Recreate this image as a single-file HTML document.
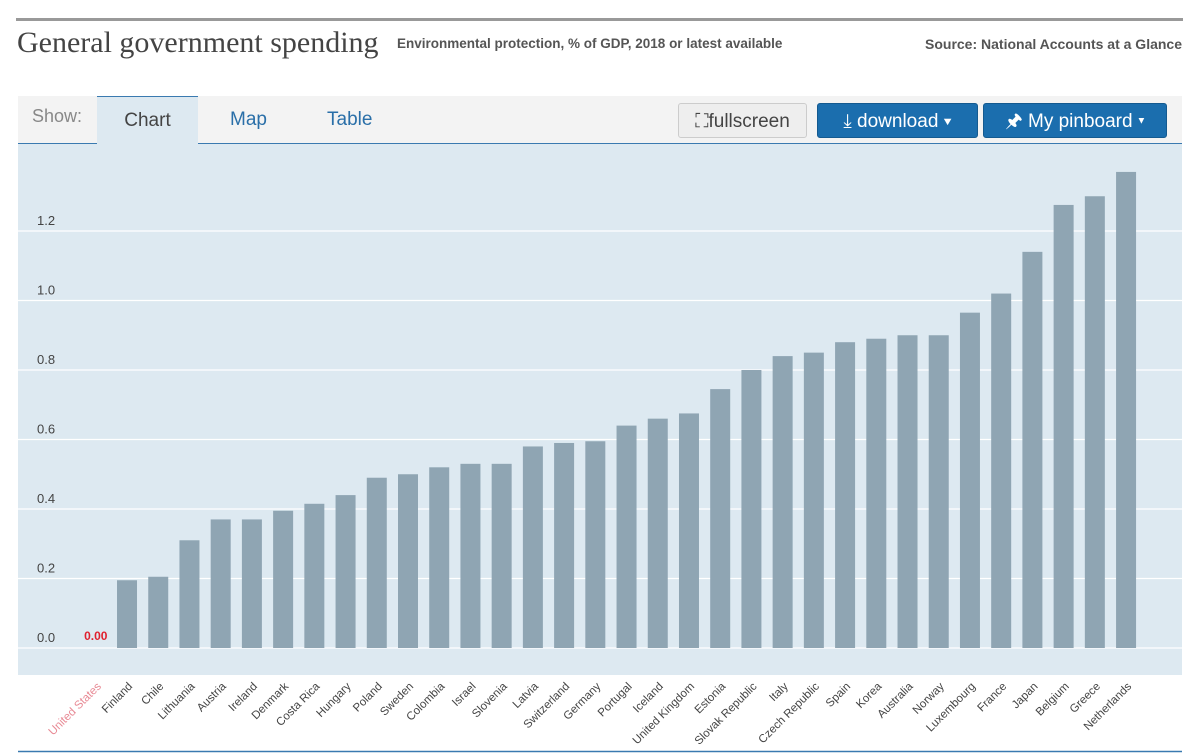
<!DOCTYPE html>
<html><head><meta charset="utf-8"><style>
body{margin:0;width:1200px;height:753px;background:#fff;font-family:"Liberation Sans",sans-serif;position:relative;overflow:hidden}
.abs{position:absolute}
.btn{position:absolute;top:103px;height:35px;border-radius:3px;font-size:19px;line-height:35px;text-align:center;box-sizing:border-box}
.blue{background:#1b6eae;color:#fff;border:1px solid #145a90}
</style></head><body>
<div class="abs" style="left:16px;top:18px;width:1167px;height:3px;background:#999"></div>
<div class="abs" style="left:17px;top:26px;font-family:'Liberation Serif',serif;font-size:30px;color:#444">General government spending</div>
<div class="abs" style="left:397px;top:36px;font-size:13.5px;font-weight:bold;color:#555">Environmental protection, % of GDP, 2018 or latest available</div>
<div class="abs" style="right:18px;top:36px;font-size:14px;font-weight:bold;color:#555">Source: National Accounts at a Glance</div>
<div class="abs" style="left:18px;top:96px;width:1164px;height:47px;background:#f3f3f3;border-bottom:1px solid #3a7ab0"></div>
<div class="abs" style="left:32px;top:106px;font-size:18px;color:#888">Show:</div>
<div class="abs" style="left:97px;top:96px;width:101px;height:49px;background:#dde9f1;border-top:1px solid #3a7ab0;box-sizing:border-box;text-align:center;font-size:19px;line-height:47px;color:#444">Chart</div>
<div class="abs" style="left:230px;top:109px;font-size:19px;color:#2a6fa8">Map</div>
<div class="abs" style="left:327px;top:109px;font-size:19px;color:#2a6fa8">Table</div>
<div class="btn" style="left:678px;width:129px;background:#eee;border:1px solid #ccc;color:#444">⛶fullscreen</div>
<div class="btn blue" style="left:817px;width:161px">⤓ download ▾</div>
<div class="btn blue" style="left:983px;width:184px">🖈 My pinboard ▾</div>
<svg class="abs" style="left:0;top:0" width="1200" height="753">
<rect x="18" y="144" width="1164" height="531" fill="#dde9f1"/>
<g id="g"></g>
<line x1="18" y1="751.5" x2="1182" y2="751.5" stroke="#3a7ab0" stroke-width="1.5"/>
</svg>
<script>
const categories=["United States","Finland","Chile","Lithuania","Austria","Ireland","Denmark","Costa Rica","Hungary","Poland","Sweden","Colombia","Israel","Slovenia","Latvia","Switzerland","Germany","Portugal","Iceland","United Kingdom","Estonia","Slovak Republic","Italy","Czech Republic","Spain","Korea","Australia","Norway","Luxembourg","France","Japan","Belgium","Greece","Netherlands"];
const values=[0,0.195,0.205,0.31,0.37,0.37,0.395,0.415,0.44,0.49,0.50,0.52,0.53,0.53,0.58,0.59,0.595,0.64,0.66,0.675,0.745,0.80,0.84,0.85,0.88,0.89,0.90,0.90,0.965,1.02,1.14,1.275,1.30,1.37];
const ticks=[0,0.2,0.4,0.6,0.8,1.0,1.2];
const y=v=>648-v*347.5;
const x=i=>95.8+i*31.22;
const g=document.getElementById('g');
const NS='http://www.w3.org/2000/svg';
function mk(t,a){const e=document.createElementNS(NS,t);for(const k in a)e.setAttribute(k,a[k]);g.appendChild(e);return e;}
ticks.forEach(v=>{const l=mk('line',{x1:18,x2:1182,y1:y(v),y2:y(v),stroke:'#fff','stroke-width':1.2});

});
ticks.forEach(v=>{const t=mk('text',{x:37,y:y(v)-6,'font-size':13,fill:'#444'});t.textContent=v.toFixed(1);

});
categories.forEach((c,i)=>{const v=values[i];
if(v>0){const r=mk('rect',{x:x(i)-10,y:y(v),width:20,height:y(0)-y(v),fill:'#8fa5b3'});

}
else{const t=mk('text',{x:x(i),y:y(0)-8,'font-size':12,'font-weight':'bold',fill:'#e0202e','text-anchor':'middle'});t.textContent=v.toFixed(2);

}
const t=mk('text',{x:0,y:0,'font-size':11.5,fill:i==0?'#e88a95':'#444','text-anchor':'end',transform:`translate(${x(i)+6},${687}) rotate(-45)`});t.textContent=c;

});
</script>
</body></html>
